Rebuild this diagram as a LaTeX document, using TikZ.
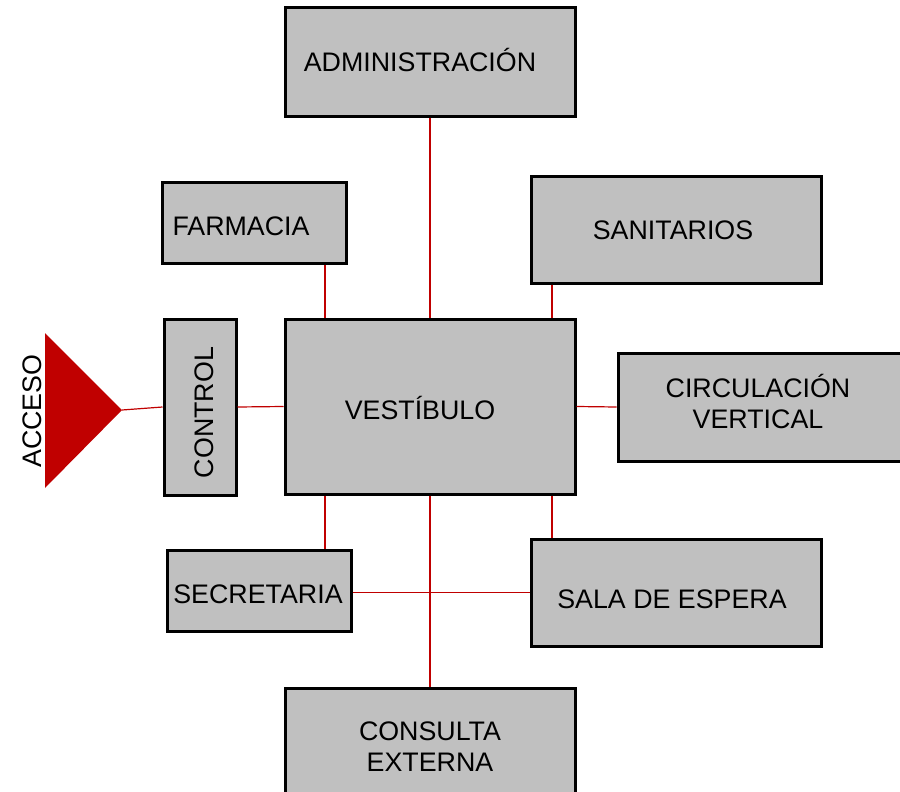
\documentclass[tikz,border=0pt]{standalone}
\usepackage{fontspec}
\setmainfont{Liberation Sans}
\definecolor{boxgray}{RGB}{192,192,192}
\definecolor{linered}{RGB}{192,0,0}
\begin{document}
\begin{tikzpicture}[x=1pt,y=-1pt,
  box/.style={draw=black,fill=boxgray,line width=3pt,rectangle,inner sep=0pt},
  lbl/.style={anchor=base,inner sep=0pt,font=\fontsize{26.8}{31}\selectfont},
  conn/.style={draw=linered,line width=1.2pt}]
\useasboundingbox (0,0) rectangle (900,792);
% boxes
\node[box,minimum width=290pt,minimum height=108pt] (admin) at (430,62) {};
\node[box,minimum width=184pt,minimum height=81pt] (farm) at (254,222.5) {};
\node[box,minimum width=290pt,minimum height=107pt] (sani) at (676,229.5) {};
\node[box,minimum width=72pt,minimum height=176pt] (ctrl) at (200,407) {};
\node[box,minimum width=290pt,minimum height=175pt] (vest) at (430,406.5) {};
\node[box,minimum width=292pt,minimum height=108pt] (circ) at (764,407) {};
\node[box,minimum width=184pt,minimum height=81pt] (secr) at (259,590.5) {};
\node[box,minimum width=290pt,minimum height=107pt] (sala) at (676,592.5) {};
\node[box,minimum width=290pt,minimum height=108pt] (cons) at (430,742) {};
% access triangle
\fill[linered] (45,333) -- (122,410) -- (45,488) -- cycle;
\coordinate (tip) at (122,410);
% labels
\node[lbl] (tadmin) at (420,72) {ADMINISTRACIÓN};
\node[lbl] (tfarm) at (241,235) {FARMACIA};
\node[lbl] (tsani) at (673,239.5) {SANITARIOS};
\node[lbl] (tvest) at (420,419.5) {VESTÍBULO};
\node[lbl] (tcirc1) at (758,397) {CIRCULACIÓN};
\node[lbl] (tcirc2) at (758,428) {VERTICAL};
\node[lbl] (tsecr) at (258,603) {SECRETARIA};
\node[lbl] (tsala) at (672,608.5) {SALA DE ESPERA};
\node[lbl] (tcons1) at (430,740) {CONSULTA};
\node[lbl] (tcons2) at (430,771) {EXTERNA};
\node[lbl,rotate=90] (tctrl) at (213,412.5) {CONTROL};
\node[lbl,rotate=90] (tacc) at (41,411) {ACCESO};
% connectors
\draw[conn] (admin.south) -- (vest.north);
\draw[conn] ([xshift=71pt]farm.south) -- ([xshift=71pt]farm.south |- vest.north);
\draw[conn] ([xshift=-124pt]sani.south) -- ([xshift=-124pt]sani.south |- vest.north);
\draw[conn] (tip) -- (ctrl.west);
\draw[conn] (ctrl.east) -- (vest.west);
\draw[conn] (vest.east) -- (circ.west);
\draw[conn] ([xshift=66pt]secr.north |- vest.south) -- ([xshift=66pt]secr.north);
\draw[conn] ([xshift=-124pt]sala.north |- vest.south) -- ([xshift=-124pt]sala.north);
\draw[conn] (vest.south) -- (cons.north);
\draw[conn] (secr.east |- sala.west) -- (sala.west);
\end{tikzpicture}
\end{document}
